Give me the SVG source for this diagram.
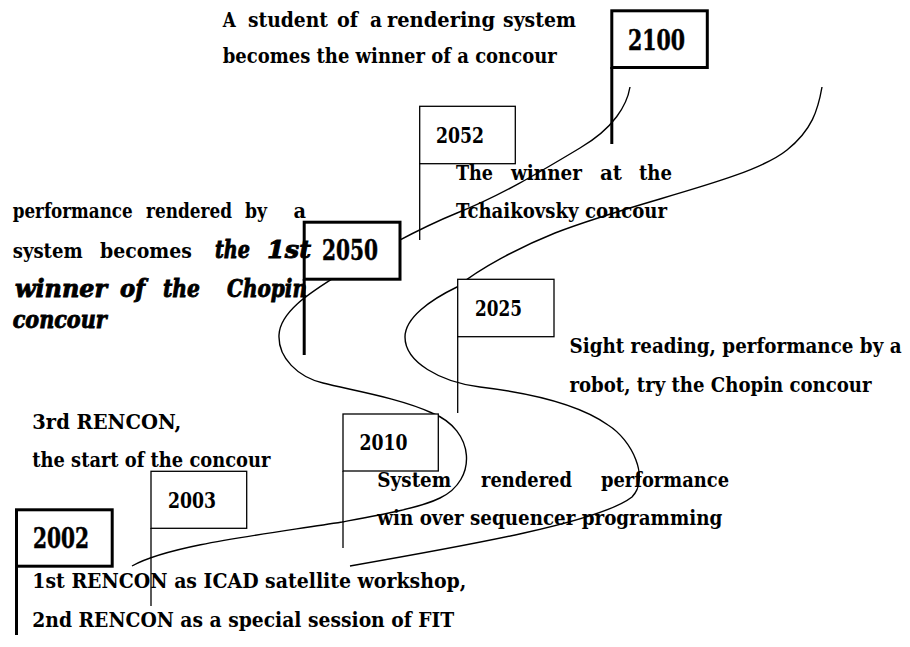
<svg xmlns="http://www.w3.org/2000/svg" width="910" height="647" viewBox="0 0 910 647">
<style>
.road{fill:none;stroke:#000;stroke-width:1.4}
.pole{stroke:#000;fill:none}
.thick{fill:#fff;stroke:#000;stroke-width:3}
.thin{fill:#fff;stroke:#000;stroke-width:1.3}
.t{font-family:"DejaVu Serif","Liberation Serif",serif;font-weight:bold;font-size:20px;fill:#000}
.it{font-style:italic;font-size:24px;stroke:#000;stroke-width:0.9}
.yr{font-size:23px}
.yrb{font-size:27px;stroke:#000;stroke-width:0.5}
</style>
<rect width="910" height="647" fill="#fff"/>
<g id="connectors">
<path class="road" d="M630 87 C627 105 614 128 580 148 C540 172 500 196 457 213 C420 228 370 255 332 279 C310 293 280 312 279 335 C278 358 298 377 323 383 C350 390 400 398 432 413 C475 430 478 480 440 498 C420 508 380 515 342 522 C260 535 170 545 132 566"/>
<path class="road" d="M822 87 C818 110 812 130 787 150 C750 180 640 200 555 233 C520 247 480 268 457 287 C430 300 405 318 405 337 C405 362 440 382 480 387 C530 393 580 405 608 425 C632 440 650 478 632 497 C600 522 470 545 350 566"/>
</g>
<g id="flag-2100">
<line class="pole" x1="611.8" y1="67" x2="611.8" y2="144" stroke-width="3"/>
<rect class="thick" x="611.8" y="10.8" width="95.5" height="56.7"/>
<text class="t yrb" x="628" y="50" textLength="57" lengthAdjust="spacingAndGlyphs">2100</text>
</g>
<g id="flag-2052">
<line class="pole" x1="419.7" y1="163" x2="419.7" y2="240" stroke-width="1.3"/>
<rect class="thin" x="419.7" y="106.3" width="95.6" height="57.4"/>
<text class="t yr" x="436" y="142.5" textLength="48" lengthAdjust="spacingAndGlyphs">2052</text>
</g>
<g id="flag-2050">
<line class="pole" x1="304.2" y1="279" x2="304.2" y2="355" stroke-width="3"/>
<rect class="thick" x="304.2" y="222.2" width="95.8" height="57"/>
<text class="t yrb" x="322" y="260" textLength="56" lengthAdjust="spacingAndGlyphs">2050</text>
</g>
<g id="flag-2025">
<line class="pole" x1="457.7" y1="336" x2="457.7" y2="413" stroke-width="1.3"/>
<rect class="thin" x="457.7" y="279.3" width="96.3" height="57.4"/>
<text class="t yr" x="475" y="316" textLength="47" lengthAdjust="spacingAndGlyphs">2025</text>
</g>
<g id="flag-2010">
<line class="pole" x1="343" y1="471" x2="343" y2="548" stroke-width="1.3"/>
<rect class="thin" x="343" y="414" width="95.3" height="57"/>
<text class="t yr" x="359.5" y="450" textLength="48" lengthAdjust="spacingAndGlyphs">2010</text>
</g>
<g id="flag-2003">
<line class="pole" x1="151" y1="528" x2="151" y2="606" stroke-width="1.3"/>
<rect class="thin" x="151" y="471.3" width="95.7" height="57"/>
<text class="t yr" x="168" y="508" textLength="48" lengthAdjust="spacingAndGlyphs">2003</text>
</g>
<g id="flag-2002">
<line class="pole" x1="16.5" y1="566" x2="16.5" y2="635" stroke-width="3"/>
<rect class="thick" x="16.5" y="509.8" width="95.7" height="56.4"/>
<text class="t yrb" x="33" y="548.3" textLength="56" lengthAdjust="spacingAndGlyphs">2002</text>
</g>
<g id="note-2100" class="t">
<text x="222.7" y="27" textLength="13" lengthAdjust="spacingAndGlyphs">A</text>
<text x="248" y="27" textLength="80" lengthAdjust="spacingAndGlyphs">student</text>
<text x="337" y="27" textLength="21" lengthAdjust="spacingAndGlyphs">of</text>
<text x="370" y="27" textLength="12" lengthAdjust="spacingAndGlyphs">a</text>
<text x="387" y="27" textLength="108" lengthAdjust="spacingAndGlyphs">rendering</text>
<text x="503" y="27" textLength="73" lengthAdjust="spacingAndGlyphs">system</text>
<text x="222.7" y="63" textLength="334" lengthAdjust="spacingAndGlyphs">becomes the winner of a concour</text>
</g>
<g id="note-2052" class="t">
<text x="456" y="180" textLength="37" lengthAdjust="spacingAndGlyphs">The</text>
<text x="511" y="180" textLength="71" lengthAdjust="spacingAndGlyphs">winner</text>
<text x="600" y="180" textLength="22" lengthAdjust="spacingAndGlyphs">at</text>
<text x="639" y="180" textLength="33" lengthAdjust="spacingAndGlyphs">the</text>
<text x="456" y="218" textLength="211" lengthAdjust="spacingAndGlyphs">Tchaikovsky concour</text>
</g>
<g id="note-2050" class="t">
<text x="12.7" y="218" textLength="120" lengthAdjust="spacingAndGlyphs">performance</text>
<text x="146" y="218" textLength="86" lengthAdjust="spacingAndGlyphs">rendered</text>
<text x="245" y="218" textLength="22" lengthAdjust="spacingAndGlyphs">by</text>
<text x="293.5" y="218" textLength="12.5" lengthAdjust="spacingAndGlyphs">a</text>
<text x="12.7" y="258" textLength="70" lengthAdjust="spacingAndGlyphs">system</text>
<text x="100" y="258" textLength="92" lengthAdjust="spacingAndGlyphs">becomes</text>
<text class="it" x="215" y="258" textLength="35" lengthAdjust="spacingAndGlyphs">the</text>
<text class="it" x="267" y="258" textLength="44" lengthAdjust="spacingAndGlyphs">1st</text>
<text class="it" x="15" y="297" textLength="92" lengthAdjust="spacingAndGlyphs">winner</text>
<text class="it" x="120" y="297" textLength="25" lengthAdjust="spacingAndGlyphs">of</text>
<text class="it" x="163" y="297" textLength="37" lengthAdjust="spacingAndGlyphs">the</text>
<text class="it" x="227" y="297" textLength="80" lengthAdjust="spacingAndGlyphs">Chopin</text>
<text class="it" x="12.7" y="328" textLength="94" lengthAdjust="spacingAndGlyphs">concour</text>
</g>
<g id="note-2025" class="t">
<text x="569.5" y="353" textLength="332" lengthAdjust="spacingAndGlyphs">Sight reading, performance by a</text>
<text x="569.5" y="392" textLength="302" lengthAdjust="spacingAndGlyphs">robot, try the Chopin concour</text>
</g>
<g id="note-2003" class="t">
<text x="32.3" y="429" textLength="149" lengthAdjust="spacingAndGlyphs">3rd RENCON,</text>
<text x="32.3" y="467" textLength="238" lengthAdjust="spacingAndGlyphs">the start of the concour</text>
</g>
<g id="note-2010" class="t">
<text x="377.3" y="487" textLength="74" lengthAdjust="spacingAndGlyphs">System</text>
<text x="481" y="487" textLength="91" lengthAdjust="spacingAndGlyphs">rendered</text>
<text x="601" y="487" textLength="128" lengthAdjust="spacingAndGlyphs">performance</text>
<text x="377.3" y="525" textLength="345" lengthAdjust="spacingAndGlyphs">win over sequencer programming</text>
</g>
<g id="note-2002" class="t">
<text x="32.3" y="588" textLength="434" lengthAdjust="spacingAndGlyphs">1st RENCON as ICAD satellite workshop,</text>
<text x="32.3" y="627" textLength="422" lengthAdjust="spacingAndGlyphs">2nd RENCON as a special session of FIT</text>
</g>
</svg>
